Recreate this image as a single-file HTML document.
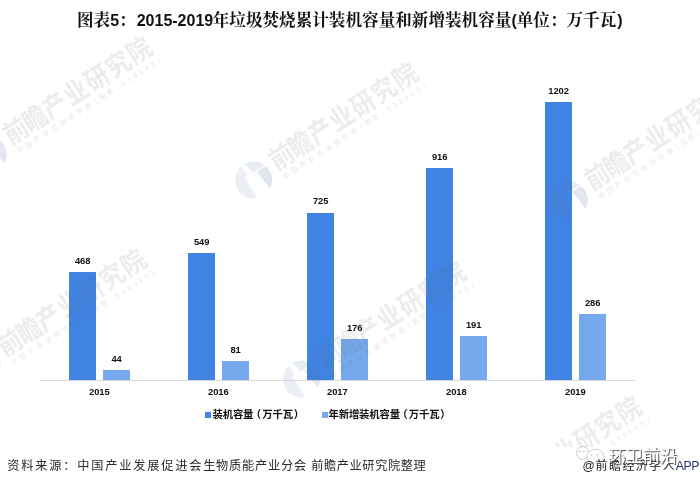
<!DOCTYPE html>
<html lang="zh-CN"><head><meta charset="utf-8"><title>图表5</title>
<style>
html,body{margin:0;padding:0;background:#fff;}
body{width:700px;height:486px;position:relative;overflow:hidden;font-family:"Liberation Sans","Noto Sans CJK SC",sans-serif;}
.title{position:absolute;left:77px;top:8.5px;white-space:nowrap;font-weight:700;color:#111;font-family:"Liberation Sans","Noto Serif CJK SC",serif;font-size:16.6px;line-height:24px;}
.title .l{font-size:16px;font-family:"Liberation Sans",sans-serif;}
.b1{position:absolute;background:#4083e2;width:26.5px;}
.b2{position:absolute;background:#75a8ec;width:26.5px;}
.v{position:absolute;width:60px;text-align:center;font-weight:700;font-size:9.4px;line-height:10px;color:#111;letter-spacing:-0.1px;}
.axis{position:absolute;left:40px;top:380px;width:595px;height:1px;background:#dcdcdc;}
.leg{position:absolute;top:408.1px;font-size:10.4px;line-height:13px;font-weight:700;color:#111;white-space:nowrap;font-family:"Liberation Sans","Noto Sans CJK SC",sans-serif;letter-spacing:-0.2px;}
.mk{position:absolute;top:412px;width:5.6px;height:6px;}
.src{position:absolute;left:7.3px;top:455.8px;font-size:12.2px;line-height:20px;color:#2a2a2a;white-space:nowrap;font-family:"Liberation Sans","Noto Sans CJK SC",sans-serif;font-weight:400;}
.wmlayer{position:absolute;left:0;top:0;width:700px;height:447px;overflow:hidden;pointer-events:none;}
.t1{font-family:"Noto Sans CJK SC",sans-serif;font-weight:700;font-size:24px;fill:rgba(95,100,112,0.125);}
.t2{font-family:"Liberation Sans","Noto Sans CJK SC",sans-serif;font-size:7px;fill:rgba(95,100,112,0.16);}
.wx{position:absolute;left:608.5px;top:442.6px;font-family:"Noto Sans CJK SC",sans-serif;font-size:17.5px;line-height:24px;color:#fff;text-shadow:1px 1px 0.8px #4a4a4a;white-space:nowrap;z-index:3;letter-spacing:-0.4px;}
.app{position:absolute;left:582.5px;top:456px;font-size:12px;line-height:20px;color:#222;white-space:nowrap;letter-spacing:1.45px;}
</style></head><body>

<div class="title">图表<span class="l">5</span>：<span class="l" style="margin-left:1px;margin-right:-0.5px">2015-2019</span>年垃圾焚烧累计装机容量和新增装机容量<span class="l">(</span>单位：万千瓦<span class="l" style="margin-left:1px">)</span></div>
<div class="b1" style="left:69.1px;top:271.9px;height:108.1px"></div>
<div class="b2" style="left:103.1px;top:369.8px;height:10.2px"></div>
<div class="v" style="left:52.6px;top:255.7px">468</div>
<div class="v" style="left:86.6px;top:353.9px">44</div>
<div class="v" style="left:69.3px;top:387.4px">2015</div>
<div class="b1" style="left:188.1px;top:253.2px;height:126.8px"></div>
<div class="b2" style="left:222.1px;top:361.3px;height:18.7px"></div>
<div class="v" style="left:171.6px;top:237.0px">549</div>
<div class="v" style="left:205.6px;top:345.4px">81</div>
<div class="v" style="left:188.3px;top:387.4px">2016</div>
<div class="b1" style="left:307.1px;top:212.5px;height:167.5px"></div>
<div class="b2" style="left:341.1px;top:339.3px;height:40.7px"></div>
<div class="v" style="left:290.6px;top:196.3px">725</div>
<div class="v" style="left:324.6px;top:323.4px">176</div>
<div class="v" style="left:307.3px;top:387.4px">2017</div>
<div class="b1" style="left:426.1px;top:168.4px;height:211.6px"></div>
<div class="b2" style="left:460.1px;top:335.9px;height:44.1px"></div>
<div class="v" style="left:409.6px;top:152.2px">916</div>
<div class="v" style="left:443.6px;top:320.0px">191</div>
<div class="v" style="left:426.3px;top:387.4px">2018</div>
<div class="b1" style="left:545.1px;top:102.3px;height:277.7px"></div>
<div class="b2" style="left:579.1px;top:313.9px;height:66.1px"></div>
<div class="v" style="left:528.6px;top:86.1px">1202</div>
<div class="v" style="left:562.6px;top:298.0px">286</div>
<div class="v" style="left:545.3px;top:387.4px">2019</div>
<div class="axis"></div>
<div class="mk" style="left:205px;background:#4083e2"></div><div class="leg" style="left:212.5px">装机容量<span style="margin-left:-2.5px;margin-right:1.3px">（</span>万千瓦<span style="margin-left:0.8px">）</span></div>
<div class="mk" style="left:322px;background:#75a8ec"></div><div class="leg" style="left:328.5px">年新增装机容量<span style="margin-left:-2.5px;margin-right:1.3px">（</span>万千瓦<span style="margin-left:0.8px">）</span></div>
<svg class="wmlayer" width="700" height="447" viewBox="0 0 700 447" text-anchor="middle">
<g transform="translate(-12,154.5) rotate(-33)"><path d="M-3,-18.25 L-3,-7.5 L-6.2,-7.5 L-6.7,17.25 A18.5,18.5 0 0 1 -3,-18.25 Z" fill="rgba(95,118,165,0.125)"/><path d="M7,-5.4 L17.69,-5.4 A18.5,18.5 0 0 1 9,16.16 Z" fill="rgba(95,118,165,0.18)"/><path d="M1.5,-18.44 A18.5,18.5 0 0 1 17.28,-6.6 L3.5,-6.6 Z" fill="rgba(95,118,165,0.15)"/><text class="t1" transform="translate(0,-5.2) scale(1,1.12)" y="9.12" x="36.2 59 82.6 107.8 133 158.2 183.4">前瞻产业研究院</text><text class="t2" y="16.4" x="29.65 39.75 49.85 59.95 70.05 80.15 90.25 100.35 110.45 119.65 127.95 136.25 144.55 152.2 159.25 166.3 173.35 180.4 187.45 194.5">中国产业咨询领导者(股票:839599)</text></g>
<g transform="translate(253.7,180.1) rotate(-33)"><path d="M-3,-18.25 L-3,-7.5 L-6.2,-7.5 L-6.7,17.25 A18.5,18.5 0 0 1 -3,-18.25 Z" fill="rgba(95,118,165,0.125)"/><path d="M7,-5.4 L17.69,-5.4 A18.5,18.5 0 0 1 9,16.16 Z" fill="rgba(95,118,165,0.18)"/><path d="M1.5,-18.44 A18.5,18.5 0 0 1 17.28,-6.6 L3.5,-6.6 Z" fill="rgba(95,118,165,0.15)"/><text class="t1" transform="translate(0,-5.2) scale(1,1.12)" y="9.12" x="36.2 59 82.6 107.8 133 158.2 183.4">前瞻产业研究院</text><text class="t2" y="16.4" x="29.65 39.75 49.85 59.95 70.05 80.15 90.25 100.35 110.45 119.65 127.95 136.25 144.55 152.2 159.25 166.3 173.35 180.4 187.45 194.5">中国产业咨询领导者(股票:839599)</text></g>
<g transform="translate(569.3,200) rotate(-33)"><path d="M-3,-18.25 L-3,-7.5 L-6.2,-7.5 L-6.7,17.25 A18.5,18.5 0 0 1 -3,-18.25 Z" fill="rgba(95,118,165,0.125)"/><path d="M7,-5.4 L17.69,-5.4 A18.5,18.5 0 0 1 9,16.16 Z" fill="rgba(95,118,165,0.18)"/><path d="M1.5,-18.44 A18.5,18.5 0 0 1 17.28,-6.6 L3.5,-6.6 Z" fill="rgba(95,118,165,0.15)"/><text class="t1" transform="translate(0,-5.2) scale(1,1.12)" y="9.12" x="36.2 59 82.6 107.8 133 158.2 183.4">前瞻产业研究院</text><text class="t2" y="16.4" x="29.65 39.75 49.85 59.95 70.05 80.15 90.25 100.35 110.45 119.65 127.95 136.25 144.55 152.2 159.25 166.3 173.35 180.4 187.45 194.5">中国产业咨询领导者(股票:839599)</text></g>
<g transform="translate(-18,366.5) rotate(-33)"><path d="M-3,-18.25 L-3,-7.5 L-6.2,-7.5 L-6.7,17.25 A18.5,18.5 0 0 1 -3,-18.25 Z" fill="rgba(95,118,165,0.125)"/><path d="M7,-5.4 L17.69,-5.4 A18.5,18.5 0 0 1 9,16.16 Z" fill="rgba(95,118,165,0.18)"/><path d="M1.5,-18.44 A18.5,18.5 0 0 1 17.28,-6.6 L3.5,-6.6 Z" fill="rgba(95,118,165,0.15)"/><text class="t1" transform="translate(0,-5.2) scale(1,1.12)" y="9.12" x="36.2 59 82.6 107.8 133 158.2 183.4">前瞻产业研究院</text><text class="t2" y="16.4" x="29.65 39.75 49.85 59.95 70.05 80.15 90.25 100.35 110.45 119.65 127.95 136.25 144.55 152.2 159.25 166.3 173.35 180.4 187.45 194.5">中国产业咨询领导者(股票:839599)</text></g>
<g transform="translate(301.5,379) rotate(-33)"><path d="M-3,-18.25 L-3,-7.5 L-6.2,-7.5 L-6.7,17.25 A18.5,18.5 0 0 1 -3,-18.25 Z" fill="rgba(95,118,165,0.125)"/><path d="M7,-5.4 L17.69,-5.4 A18.5,18.5 0 0 1 9,16.16 Z" fill="rgba(95,118,165,0.18)"/><path d="M1.5,-18.44 A18.5,18.5 0 0 1 17.28,-6.6 L3.5,-6.6 Z" fill="rgba(95,118,165,0.15)"/><text class="t1" transform="translate(0,-5.2) scale(1,1.12)" y="9.12" x="36.2 59 82.6 107.8 133 158.2 183.4">前瞻产业研究院</text><text class="t2" y="16.4" x="29.65 39.75 49.85 59.95 70.05 80.15 90.25 100.35 110.45 119.65 127.95 136.25 144.55 152.2 159.25 166.3 173.35 180.4 187.45 194.5">中国产业咨询领导者(股票:839599)</text></g>
<g transform="translate(477.5,514) rotate(-33)"><path d="M-3,-18.25 L-3,-7.5 L-6.2,-7.5 L-6.7,17.25 A18.5,18.5 0 0 1 -3,-18.25 Z" fill="rgba(95,118,165,0.125)"/><path d="M7,-5.4 L17.69,-5.4 A18.5,18.5 0 0 1 9,16.16 Z" fill="rgba(95,118,165,0.18)"/><path d="M1.5,-18.44 A18.5,18.5 0 0 1 17.28,-6.6 L3.5,-6.6 Z" fill="rgba(95,118,165,0.15)"/><text class="t1" transform="translate(0,-5.2) scale(1,1.12)" y="9.12" x="36.2 59 82.6 107.8 133 158.2 183.4">前瞻产业研究院</text><text class="t2" y="16.4" x="29.65 39.75 49.85 59.95 70.05 80.15 90.25 100.35 110.45 119.65 127.95 136.25 144.55 152.2 159.25 166.3 173.35 180.4 187.45 194.5">中国产业咨询领导者(股票:839599)</text></g>
</svg>
<div class="src"><span style="letter-spacing:1.8px">资料来源：中国产业发展促进会</span><span style="letter-spacing:0.8px">生物质能产业分会 </span><span style="letter-spacing:0.6px">前瞻产业研究院整理</span></div>
<svg style="position:absolute;left:574px;top:444px" width="34" height="22" viewBox="0 0 34 22"><ellipse cx="8.7" cy="9" rx="6" ry="6.5" fill="#fff" stroke="rgba(0,0,0,0.25)" stroke-width="0.8"/><ellipse cx="21.5" cy="12.3" rx="8.6" ry="7" fill="#fff" stroke="rgba(0,0,0,0.22)" stroke-width="0.8"/><circle cx="6" cy="7.5" r="0.8" fill="rgba(0,0,0,0.3)"/><circle cx="10" cy="7.5" r="0.8" fill="rgba(0,0,0,0.3)"/><circle cx="17.5" cy="11" r="0.8" fill="rgba(0,0,0,0.25)"/><circle cx="23.5" cy="11" r="0.8" fill="rgba(0,0,0,0.25)"/></svg>
<div class="wx">环卫前沿</div>
<div class="app"><span style="letter-spacing:0.8px">@</span>前瞻经济学人<span style="font-size:12.3px;letter-spacing:-0.4px;margin-left:-0.5px;color:#2a3570">APP</span></div>
</body></html>
